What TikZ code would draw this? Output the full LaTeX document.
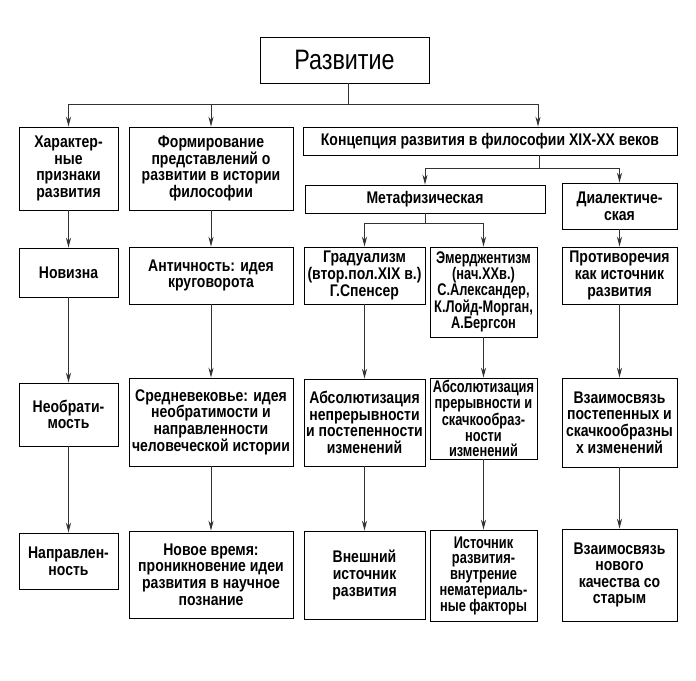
\documentclass[tikz,border=0pt]{standalone}
\usepackage{fontspec}
\setmainfont{Liberation Sans}[FakeStretch=0.83]
\newfontfamily\uzkij{Liberation Sans}[FakeStretch=0.76]
\usetikzlibrary{arrows.meta}
\usetikzlibrary{calc}

\begin{document}
\begin{tikzpicture}[x=0.025cm, y=-0.025cm,
	blok/.style={draw, line width=0.6pt, align=center, inner sep=1pt, font=\bfseries\fontsize{12}{11.8}\selectfont},
	uzko/.style={font=\uzkij\bfseries\fontsize{12}{11.2}\selectfont},
	strelka/.style={draw=black!80, line width=0.6pt, -{Stealth[length=7pt,width=3.6pt,inset=2.2pt]}},
	liniya/.style={draw=black!80, line width=0.6pt}]
				\useasboundingbox (0,0) rectangle (696,680);
				
				\node[blok, minimum width=4.225cm, minimum height=1.15cm, font=\fontsize{20}{22}\selectfont] (razv) at (344.5,60) {Развитие};
				
				\node[blok, minimum width=2.475cm, minimum height=2.075cm] (har) at (68.5,168.5) {Характер-\\ные\\признаки\\развития};
				\node[blok, minimum width=4.1cm, minimum height=2.075cm] (form) at (211,168.5) {Формирование\\представлений о\\развитии в истории\\философии};
				\node[blok, minimum width=9.35cm, minimum height=0.7cm] (konc) at (490,141) {Концепция развития в философии XIX-XX веков};
				\node[blok, minimum width=6cm, minimum height=0.7cm] (meta) at (425,199) {Метафизическая};
				\node[blok, minimum width=2.875cm, minimum height=1.15cm] (dial) at (619.5,206) {Диалектиче-\\ская};
				
				\node[blok, minimum width=2.475cm, minimum height=1.225cm] (nov) at (68.5,272.5) {Новизна};
				\node[blok, minimum width=4.1cm, minimum height=1.425cm] (ant) at (211,275.5) {Античность: идея\\круговорота};
				\node[blok, minimum width=3.025cm, minimum height=1.425cm] (grad) at (364.5,275.5) {Градуализм\\(втор.пол.XIX в.)\\Г.Спенсер};
				\node[blok, uzko, minimum width=2.675cm, minimum height=2.25cm] (emer) at (483.5,292) {Эмерджентизм\\(нач.XXв.)\\С.Александер,\\К.Лойд-Морган,\\А.Бергсон};
				\node[blok, minimum width=2.875cm, minimum height=1.425cm] (prot) at (619.5,275.5) {Противоречия\\как источник\\развития};
				
				\node[blok, minimum width=2.475cm, minimum height=1.575cm] (neob) at (68.5,414.5) {Необрати-\\мость};
				\node[blok, minimum width=4.1cm, minimum height=2.2cm] (sred) at (211,422) {Средневековье: идея\\необратимости и\\направленности\\человеческой истории};
				\node[blok, minimum width=3.025cm, minimum height=2.175cm] (abs1) at (364.5,422.5) {Абсолютизация\\непрерывности\\и постепенности\\изменений};
				\node[blok, uzko, minimum width=2.675cm, minimum height=2.025cm] (abs2) at (483.5,418.5) {Абсолютизация\\прерывности и\\скачкообраз-\\ности\\изменений};
				\node[blok, minimum width=2.875cm, minimum height=2.225cm] (vz1) at (619.5,422.5) {Взаимосвязь\\постепенных и\\скачкообразны\\х изменений};
				
				\node[blok, minimum width=2.475cm, minimum height=1.4cm] (napr) at (68.5,561) {Направлен-\\ность};
				\node[blok, minimum width=4.1cm, minimum height=2.175cm] (novvr) at (211,574.5) {Новое время:\\проникновение идеи\\развития в научное\\познание};
				\node[blok, minimum width=3.025cm, minimum height=2.2cm] (vnesh) at (364.5,575) {Внешний\\источник\\развития};
				\node[blok, uzko, minimum width=2.675cm, minimum height=2.275cm] (ist) at (483.5,575.5) {Источник\\развития-\\внутрение\\нематериаль-\\ные факторы};
				\node[blok, minimum width=2.875cm, minimum height=2.3cm] (vz2) at (619.5,575) {Взаимосвязь\\нового\\качества со\\старым};
				
				\coordinate (shina) at ($(razv.south)+(3.5,21)$);
				\draw[liniya] (razv.south -| shina) -- (shina);
				\draw[strelka] (shina) -| (har.north);
				\draw[strelka] (shina) -| (form.north);
				\draw[strelka] (shina) -| ($(konc.north)+(48,0)$);
				
				\coordinate (k1) at ($(konc.south)+(49,13)$);
				\draw[liniya] (konc.south -| k1) -- (k1);
				\draw[strelka] (k1) -| (meta.north);
				\draw[strelka] (k1) -| (dial.north);
				
				\coordinate (m1) at ($(meta.south)+(0,10)$);
				\draw[liniya] (meta.south) -- (m1);
				\draw[strelka] (m1) -| (grad.north);
				\draw[strelka] (m1) -| (emer.north);
				
				\foreach \a/\b in {har/nov, nov/neob, neob/napr, form/ant, ant/sred, sred/novvr, grad/abs1, abs1/vnesh, emer/abs2, abs2/ist, dial/prot, prot/vz1, vz1/vz2}
				\draw[strelka] (\a) -- (\b);
\end{tikzpicture}
\end{document}
